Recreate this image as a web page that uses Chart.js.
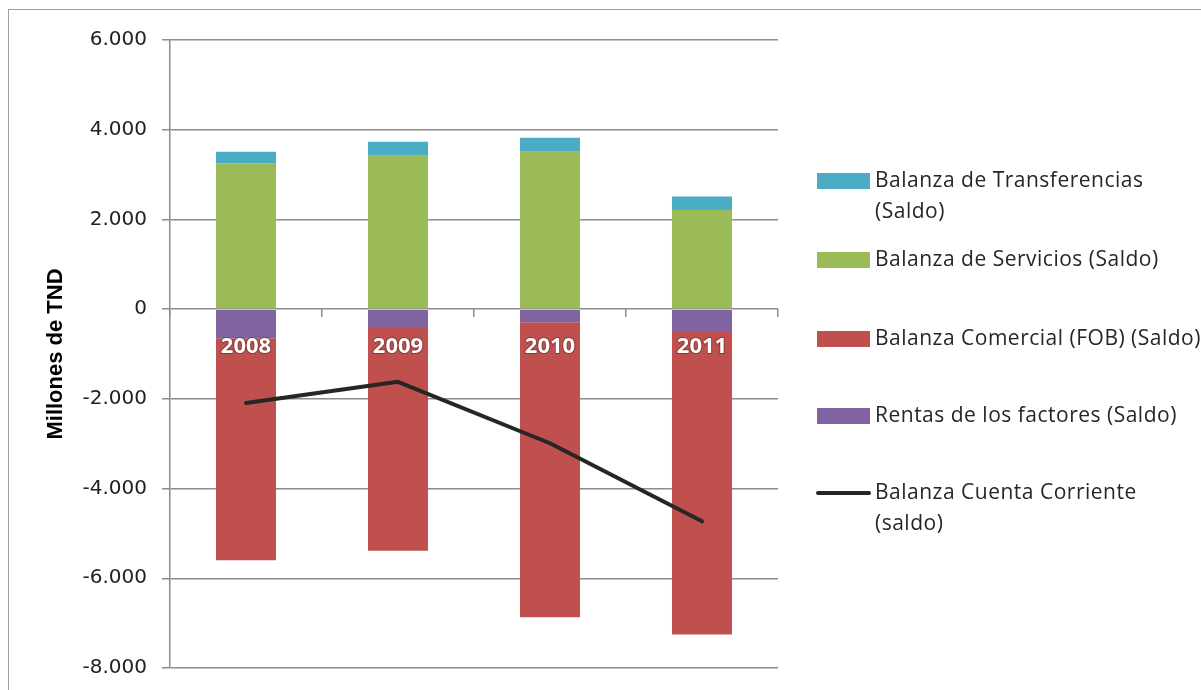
<!DOCTYPE html>
<html>
<head>
<meta charset="utf-8">
<script src="https://cdn.jsdelivr.net/npm/chart.js@4"></script>
<style>
    body { margin: 0; background: #fff; }
    #wrap { position: relative; width: 1201px; height: 690px; overflow: hidden; }
    #frame { position: absolute; left: 8px; top: 9px; width: 1400px; height: 900px; border: 1.5px solid #a0a0a0; }
    canvas { position: absolute; left: 0; top: 0; }
</style>
</head>
<body>
<div id="wrap">
    <div id="frame"></div>
    <canvas id="myChart" width="1201" height="690"></canvas>
</div>
<script>
// --- DATI ---
const years = ['2008', '2009', '2010', '2011'];
const transferencias = [260, 310, 310, 300];
const servicios = [3250, 3420, 3510, 2210];
const comercial = [-4950, -4985, -6580, -6745];
const rentas = [-650, -400, -290, -510];
const cuentaCorriente = [-2090, -1620, -2990, -4730];
const yTicks = [6000, 4000, 2000, 0, -2000, -4000, -6000, -8000];

const gridColor = '#8c8c8c';

// numero con punto delle migliaia
function fmt(v) {
    return String(v).replace(/\B(?=(\d{3})+(?!\d))/g, '.');
}

// --- LEGENDA A DESTRA ---
const legendOrder = [4, 3, 2, 1, 0];
const sideLegend = {
    id: 'sideLegend',
    afterDraw(chart) {
        const c = chart.ctx;
        const rows = [181, 260, 339, 416, 493];
        c.save();
        c.font = '21px "Open Sans"';
        c.letterSpacing = '0.5px';
        c.textBaseline = 'middle';
        legendOrder.forEach((di, k) => {
            const ds = chart.data.datasets[di];
            const y = rows[k];
            if (ds.type === 'line') {
                c.strokeStyle = ds.borderColor;
                c.lineWidth = 4;
                c.lineCap = 'round';
                c.beginPath();
                c.moveTo(818, y);
                c.lineTo(869, y);
                c.stroke();
            } else {
                c.fillStyle = ds.backgroundColor;
                c.fillRect(817, y - 8, 53, 16);
            }
            c.fillStyle = '#262626';
            ds.label.split('\n').forEach((t, j) => c.fillText(t, 875, y + j * 31));
        });
        c.restore();
    }
};

const ctx = document.getElementById('myChart').getContext('2d');
const chart = new Chart(ctx, {
    type: 'bar',
    data: {
        labels: years,
        datasets: [
            { type: 'line', label: 'Balanza Cuenta Corriente\n(saldo)', data: cuentaCorriente, stack: 'linea',
              borderColor: '#262626', borderWidth: 4, pointRadius: 0, tension: 0,
              borderCapStyle: 'round', borderJoinStyle: 'round' },
            { label: 'Rentas de los factores (Saldo)', data: rentas, backgroundColor: '#8064A2', stack: 'barre' },
            { label: 'Balanza Comercial (FOB) (Saldo)', data: comercial, backgroundColor: '#C0504D', stack: 'barre' },
            { label: 'Balanza de Servicios (Saldo)', data: servicios, backgroundColor: '#9BBB59', stack: 'barre' },
            { label: 'Balanza de Transferencias\n(Saldo)', data: transferencias, backgroundColor: '#4BACC6', stack: 'barre' }
        ]
    },
    options: {
        responsive: false,
        animation: false,
        layout: { padding: { top: 40, right: 423, bottom: 22, left: 0 } },
        datasets: { bar: { categoryPercentage: 1, barPercentage: 0.395 } },
        plugins: { legend: { display: false }, tooltip: { enabled: false } },
        scales: {
            x: {
                stacked: true,
                position: { y: 0 },
                grid: { drawOnChartArea: false, offset: true, tickLength: 8, color: gridColor, lineWidth: 1.5 },
                border: { display: false },
                ticks: {
                    z: 1,
                    color: '#fff',
                    padding: 16,
                    font: { family: 'Open Sans', size: 22, weight: 'bold' },
                    textStrokeColor: 'rgba(90,40,40,0.55)',
                    textStrokeWidth: 2
                }
            },
            y: {
                stacked: true,
                min: -8000,
                max: 6000,
                afterBuildTicks: s => { s.ticks = yTicks.map(v => ({ value: v })); },
                afterFit: s => { s.width = 170; s.paddingTop = 0; s.paddingBottom = 0; },
                grid: { color: gridColor, lineWidth: 1.5, tickLength: 8 },
                border: { color: gridColor, width: 1.5 },
                ticks: {
                    color: '#222',
                    padding: 15,
                    font: { family: 'DejaVu Sans', size: 20 },
                    callback: v => fmt(v)
                },
                title: {
                    display: true,
                    text: 'Millones de TND',
                    color: '#000',
                    font: { family: 'Liberation Sans', size: 22, weight: 'bold' },
                    padding: { top: 43, bottom: 0 }
                }
            }
        }
    },
    plugins: [sideLegend]
});
</script>
</body>
</html>
